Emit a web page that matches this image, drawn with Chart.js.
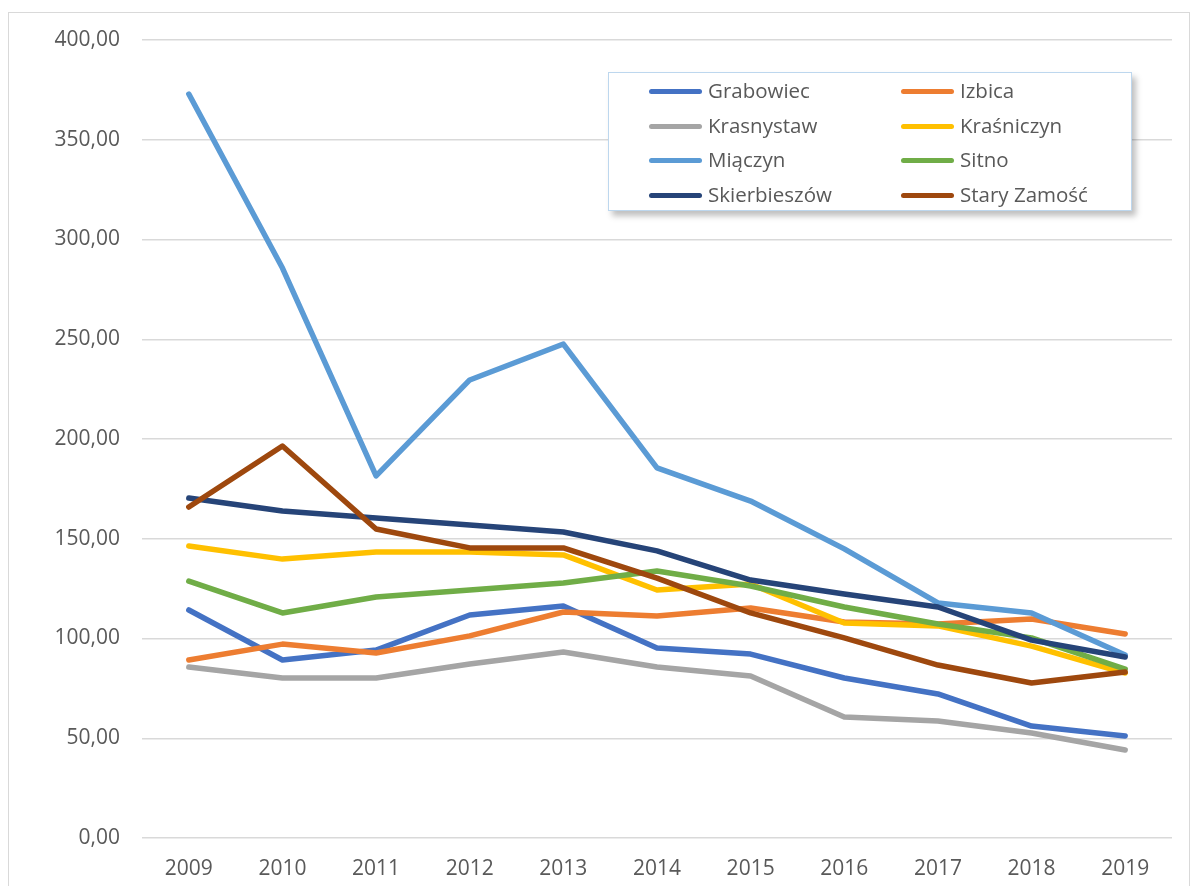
<!DOCTYPE html>
<html>
<head>
<meta charset="utf-8">
<script src="https://cdn.jsdelivr.net/npm/chart.js@4"></script>
<style>
  body { margin: 0; background: #fff; }
  #wrap { position: relative; width: 1196px; height: 886px; overflow: hidden; }
  #frame { position: absolute; left: 8px; top: 12px; width: 1180px; height: 900px; border: 1.5px solid #D9D9D9; }
  #legend {
    position: absolute; left: 608px; top: 72px; width: 522px; height: 137px;
    border: 1.5px solid #BDD7EE; background: #fff;
    box-shadow: 4px 5px 6px rgba(0,0,0,0.25);
    font-family: "Open Sans", sans-serif; font-size: 20.5px; color: #595959;
  }
  .item { position: absolute; height: 28px; line-height: 28px; white-space: nowrap; }
  .item span.ln { display: inline-block; width: 53px; height: 5px; border-radius: 3px; vertical-align: middle; margin-right: 6px; position: relative; top: -1px; }
</style>
</head>
<body>
<div id="wrap">
  <div id="frame"></div>
  <canvas id="chart"></canvas>
  <div id="legend"></div>
</div>
<script>
var ctx = document.getElementById('chart').getContext('2d');
ctx.canvas.width = 1196;
ctx.canvas.height = 886;

const years = ['2009','2010','2011','2012','2013','2014','2015','2016','2017','2018','2019'];

const grabowiec    = [114.3, 89.2, 94.2, 111.8, 116.3, 95.2, 92.2, 80.2, 72.2, 56.1, 51.1];
const izbica       = [89.2, 97.2, 92.7, 101.3, 113.3, 111.3, 115.3, 108.3, 107.3, 109.8, 102.3];
const krasnystaw   = [85.7, 80.2, 80.2, 87.2, 93.2, 85.7, 81.2, 60.7, 58.6, 52.6, 44.1];
const krasniczyn   = [146.4, 139.8, 143.4, 143.4, 141.9, 124.3, 127.3, 107.8, 106.3, 96.2, 82.7];
const miaczyn      = [372.9, 285.7, 181.5, 229.6, 247.6, 185.5, 168.9, 144.9, 117.8, 112.8, 91.7];
const sitno        = [128.8, 112.8, 120.8, 124.3, 127.8, 133.8, 126.3, 115.8, 107.3, 100.3, 84.7];
const skierbieszow = [170.4, 163.9, 160.4, 156.9, 153.4, 143.9, 129.3, 122.3, 115.8, 99.2, 90.7];
const staryZamosc  = [165.9, 196.5, 154.9, 145.4, 145.4, 130.3, 112.8, 100.3, 86.7, 77.7, 83.2];

function series(label, data, color){
    return {
        label: label,
        data: data,
        borderColor: color,
        backgroundColor: color,
        borderWidth: 5.5,
        pointRadius: 0,
        borderCapStyle: 'round',
        borderJoinStyle: 'round',
        tension: 0
    };
}

const datasets = [
    series('Grabowiec', grabowiec, '#4472C4'),
    series('Izbica', izbica, '#ED7D31'),
    series('Krasnystaw', krasnystaw, '#A5A5A5'),
    series('Kraśniczyn', krasniczyn, '#FFC000'),
    series('Miączyn', miaczyn, '#5B9BD5'),
    series('Sitno', sitno, '#70AD47'),
    series('Skierbieszów', skierbieszow, '#264478'),
    series('Stary Zamość', staryZamosc, '#9E480E')
];

// later series are painted over earlier ones, as in the original
datasets.forEach(function(d, i){ d.order = datasets.length - i; });

Chart.defaults.font.family = '"Open Sans", sans-serif';
Chart.defaults.color = '#595959';

var chart = new Chart(ctx, {
    type: 'line',
    data: { labels: years, datasets: datasets },
    options: {
        responsive: false,
        animation: false,
        layout: { padding: { top: 40, right: 24, bottom: 0, left: 0 } },
        plugins: { legend: { display: false }, tooltip: { enabled: false } },
        scales: {
            x: {
                offset: true,
                afterFit: function(s){ s.height = 48; },
                grid: { display: false },
                border: { display: false },
                ticks: { font: { size: 21 }, padding: 10, maxRotation: 0 }
            },
            y: {
                min: 0, max: 400,
                afterFit: function(s){ s.width = 142; },
                grid: { color: '#D9D9D9', lineWidth: 1.5, drawTicks: false },
                border: { display: false },
                ticks: {
                    stepSize: 50,
                    padding: 22,
                    font: { size: 21 },
                    callback: function(v){ return v.toFixed(2).replace('.', ','); }
                }
            }
        }
    }
});

// legend box, two columns
var legend = document.getElementById('legend');
datasets.forEach(function(d, i){
    var el = document.createElement('div');
    el.className = 'item';
    var col = i % 2, row = Math.floor(i / 2);
    el.style.left = (col === 0 ? 40 : 292) + 'px';
    el.style.top = (3 + row * 34.5) + 'px';
    el.innerHTML = '<span class="ln" style="background:' + d.borderColor + '"></span>' + d.label;
    legend.appendChild(el);
});
</script>
</body>
</html>
